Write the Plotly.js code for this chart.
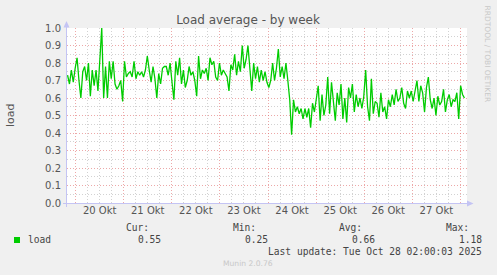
<!DOCTYPE html>
<html><head><meta charset="utf-8">
<script src="https://cdn.plot.ly/plotly-3.0.1.min.js"></script>
<style>html,body{margin:0;padding:0;background:#f0f0f0;}#chart{width:497px;height:275px;}</style>
</head><body><div id="chart"></div>
<script>
// ---------------- data ----------------
const chartTitle = "Load average - by week";
const yAxisTitle = "load";
const seriesName = "load";
const firstSample = "2025-10-19 20:00";
const lastSample = "2025-10-28 02:00";
const xRange = ["2025-10-19 19:43", "2025-10-28 03:17"];
const loadValues = [
  0.73,0.68,0.76,0.69,0.77,0.83,0.70,0.60,0.75,0.78,0.70,0.80,0.61,0.76,0.67,0.76,0.64,0.82,1.00,0.60,
  0.78,0.60,0.81,0.71,0.81,0.68,0.65,0.67,0.70,0.58,0.81,0.72,0.74,0.75,0.72,0.81,0.71,0.75,0.73,0.75,0.72,
  0.76,0.84,0.76,0.69,0.78,0.71,0.60,0.74,0.68,0.77,0.78,
  0.78,0.73,0.80,0.69,0.59,0.81,0.73,0.83,0.68,0.76,0.66,0.70,0.78,0.73,0.75,0.70,0.61,0.84,0.71,0.76,
  0.74,0.77,0.70,0.83,0.79,0.81,0.72,0.70,0.80,0.73,0.76,0.74,0.72,0.64,0.79,0.76,0.85,0.73,0.81,0.75,0.90,
  0.77,0.82,0.90,0.78,0.64,0.80,0.71,0.78,0.69,0.76,0.70,
  0.75,0.69,0.66,0.70,0.80,0.70,0.77,0.88,0.72,0.78,0.71,0.80,0.70,0.59,0.39,0.59,0.52,0.55,0.51,0.54,
  0.48,0.54,0.49,0.54,0.43,0.57,0.52,0.60,0.67,0.47,0.62,0.50,0.56,0.72,0.51,0.69,0.56,0.47,0.63,0.56,
  0.68,0.48,0.60,0.46,0.66,0.60,0.68,0.52,0.62,0.55,0.60,0.54,0.61,0.76,
  0.55,0.47,0.71,0.51,0.58,0.57,0.49,0.63,0.52,0.55,0.48,0.59,0.55,0.62,0.56,0.65,0.58,0.60,0.66,
  0.57,0.54,0.64,0.60,0.64,0.58,0.65,0.70,0.58,0.67,0.63,0.52,0.66,0.72,0.59,0.54,0.60,0.50,0.61,
  0.56,0.58,0.65,0.52,0.59,0.62,0.55,0.59,0.58,0.63,0.48,0.67,0.62,0.60
];
const yTickStep = 0.1;
const statLabels = ["Cur:", "Min:", "Avg:", "Max:"];
const statValues = ["0.55", "0.25", "0.66", "1.18"];
const lastUpdateText = "Last update: Tue Oct 28 02:00:03 2025";
const creditText = "RRDTOOL / TOBI OETIKER";
const footerText = "Munin 2.0.76";

// ---------------- build ----------------
const t0 = new Date(firstSample.replace(' ', 'T')).getTime();
const t1 = new Date(lastSample.replace(' ', 'T')).getTime();
const step = (t1 - t0) / (loadValues.length - 1);
const pad = n => String(n).padStart(2, '0');
const fmt = ms => { const d = new Date(ms); return d.getFullYear()+'-'+pad(d.getMonth()+1)+'-'+pad(d.getDate())+' '+pad(d.getHours())+':'+pad(d.getMinutes())+':'+pad(d.getSeconds()); };
const xTimes = loadValues.map((_, i) => fmt(t0 + i * step));

const W = 497, H = 275, L = 67, R = 467, T = 28, B = 203;
const px = x => (x - L) / (R - L);
const py = y => (B - y) / (B - T);

const sans = "DejaVu Sans, sans-serif";
const mono = "DejaVu Sans Mono, monospace";
const textCol = "#555555";
const legCol = "#444444";
const axisCol = "#c4c4f4";
const redGrid = "rgba(225,110,110,0.6)";
const grayGrid = "#d2d2d2";

const ann = [];
function txt(text, x, y, opts) {
  ann.push(Object.assign({text, x: px(x), y: py(y), xref: 'paper', yref: 'paper', showarrow: false,
    yanchor: 'middle', borderpad: 0, font: {family: mono, size: 9.6, color: legCol}}, opts || {}));
}
txt(yAxisTitle, 10, 115, {textangle: -90, xanchor: 'center', font: {family: sans, size: 11, color: textCol}});
txt(creditText, 487.5, 54, {textangle: 90, xanchor: 'center', font: {family: sans, size: 7.5, color: '#c8c8c8'}});
txt(seriesName, 26.5, 239.5, {xanchor: 'left'});
const labelRight = [150, 256.7, 363.3, 470];
const valueRight = [162.3, 269, 376, 482.7];
statLabels.forEach((s, i) => txt(s, labelRight[i], 227.5, {xanchor: 'right'}));
statValues.forEach((s, i) => txt(s, valueRight[i], 239.5, {xanchor: 'right'}));
txt(lastUpdateText, 482.7, 251.8, {xanchor: 'right'});
txt(footerText, 247.7, 263.7, {xanchor: 'center', font: {family: sans, size: 7.6, color: '#c8c8c8'}});

const shapes = [
  {type: 'rect', xref: 'paper', yref: 'paper', x0: px(14), x1: px(20), y0: py(243), y1: py(237), fillcolor: '#00cc00', line: {width: 0}},
  {type: 'line', xref: 'paper', yref: 'paper', x0: px(66.5), x1: px(66.5), y0: py(207), y1: py(26), line: {color: axisCol, width: 1}},
  {type: 'line', xref: 'paper', yref: 'paper', x0: px(63), x1: px(468), y0: py(203.5), y1: py(203.5), line: {color: axisCol, width: 1}},
  {type: 'path', xref: 'paper', yref: 'paper', fillcolor: axisCol, line: {width: 0},
   path: 'M '+px(63.5)+' '+py(27.5)+' L '+px(69.5)+' '+py(27.5)+' L '+px(66.5)+' '+py(21)+' Z'},
  {type: 'path', xref: 'paper', yref: 'paper', fillcolor: axisCol, line: {width: 0},
   path: 'M '+px(467)+' '+py(200.5)+' L '+px(467)+' '+py(206.5)+' L '+px(473.5)+' '+py(203.5)+' Z'}
];

const trace = {x: xTimes, y: loadValues, type: 'scatter', mode: 'lines', name: seriesName,
  line: {color: '#00cc00', width: 1.3}, hoverinfo: 'skip'};

const layout = {
  width: W, height: H,
  margin: {l: L, r: W - R, t: T, b: H - B, pad: 0},
  paper_bgcolor: '#f0f0f0', plot_bgcolor: '#ffffff',
  showlegend: false,
  title: {text: chartTitle, x: 248 / W, xanchor: 'center', y: 1 - 19.5 / H, yanchor: 'middle',
    font: {family: sans, size: 12, color: textCol}},
  xaxis: {type: 'date', range: xRange, tick0: '2025-10-20 00:00', dtick: 86400000,
    ticklabelmode: 'period', tickformat: '%d Okt', ticks: '', showline: false, zeroline: false,
    gridcolor: redGrid, griddash: '1px,2px', gridwidth: 1,
    minor: {dtick: 21600000, tick0: '2025-10-20 00:00', showgrid: true, gridcolor: grayGrid, griddash: '1px,2px', gridwidth: 1},
    tickfont: {family: sans, size: 10, color: textCol}, fixedrange: true},
  yaxis: {range: [0, 1.0], tick0: 0, dtick: yTickStep, tickformat: '.1f', ticks: '',
    ticklabelstandoff: 5, showline: false, zeroline: false,
    gridcolor: redGrid, griddash: '1px,2px', gridwidth: 1,
    minor: {dtick: yTickStep / 2, showgrid: true, gridcolor: grayGrid, griddash: '1px,2px', gridwidth: 1},
    tickfont: {family: sans, size: 10, color: textCol}, fixedrange: true},
  annotations: ann,
  shapes: shapes
};

Plotly.newPlot('chart', [trace], layout, {staticPlot: true, displayModeBar: false});
</script>
</body></html>
